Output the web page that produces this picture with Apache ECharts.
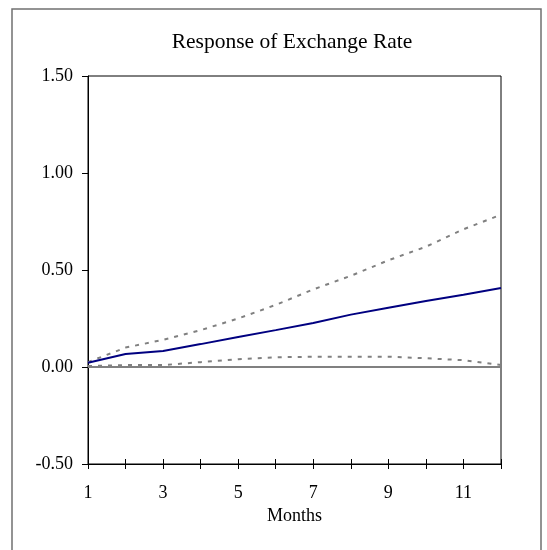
<!DOCTYPE html>
<html>
<head>
<meta charset="utf-8">
<script src="https://cdn.jsdelivr.net/npm/echarts@6/dist/echarts.min.js"></script>
<style>
  html, body { margin: 0; padding: 0; background: #fff; }
  #chart { width: 547px; height: 550px; }
</style>
</head>
<body>
<div id="chart"></div>
<script>
// Impulse response of the exchange rate with its confidence band
const months = [1, 2, 3, 4, 5, 6, 7, 8, 9, 10, 11, 12];
const response = [0.022, 0.067, 0.082, 0.118, 0.155, 0.19, 0.227, 0.27, 0.305, 0.34, 0.372, 0.407];
const upperBand = [0.025, 0.10, 0.14, 0.19, 0.25, 0.32, 0.40, 0.47, 0.55, 0.62, 0.71, 0.785];
const lowerBand = [0.005, 0.01, 0.01, 0.025, 0.04, 0.05, 0.053, 0.053, 0.053, 0.045, 0.035, 0.01];
const yTicks = [-0.5, 0, 0.5, 1.0, 1.5];

const FONT = '"Liberation Serif", "Times New Roman", serif';
const pairs = vals => months.map((m, i) => [m, vals[i]]);

const chart = echarts.init(document.getElementById('chart'), null, { renderer: 'canvas' });

const xBase = {
  type: 'value',
  min: 1,
  max: 12,
  interval: 1,
  position: 'bottom',
  splitLine: { show: false },
  axisLine: { show: true, onZero: false, lineStyle: { color: '#000', width: 1 } }
};

chart.setOption({
  backgroundColor: '#fff',
  animation: false,
  title: {
    text: 'Response of Exchange Rate',
    left: 287,
    top: 26,
    textAlign: 'center',
    textStyle: { fontFamily: FONT, fontSize: 21.5, fontWeight: 'normal', color: '#000' }
  },
  graphic: [{
    type: 'rect',
    shape: { x: 12, y: 9, width: 529, height: 560 },
    style: { fill: 'none', stroke: '#707070', lineWidth: 1.5 },
    silent: true
  }],
  grid: {
    left: 88, right: 46, top: 76, bottom: 86,
    show: true, borderColor: '#000', borderWidth: 1, backgroundColor: 'transparent'
  },
  xAxis: [
    Object.assign({}, xBase, {
      name: 'Months',
      nameLocation: 'middle',
      nameGap: 40,
      nameTextStyle: { fontFamily: FONT, fontSize: 18, color: '#000' },
      axisTick: { show: true, inside: false, length: 5, lineStyle: { color: '#000' } },
      axisLabel: {
        fontFamily: FONT, fontSize: 18, color: '#000', margin: 20,
        formatter: v => (v % 2 === 1 ? String(v) : '')
      }
    }),
    Object.assign({}, xBase, {
      axisTick: { show: true, inside: true, length: 5, lineStyle: { color: '#000' } },
      axisLabel: { show: false }
    })
  ],
  yAxis: {
    type: 'value',
    min: yTicks[0],
    max: yTicks[yTicks.length - 1],
    interval: 0.5,
    splitLine: { show: false },
    axisLine: { show: true, lineStyle: { color: '#000', width: 1 } },
    axisTick: { show: true, length: 6, lineStyle: { color: '#000' } },
    axisLabel: {
      fontFamily: FONT, fontSize: 18, color: '#000', margin: 15,
      verticalAlign: 'middle', lineHeight: 18, padding: [3, 0, 0, 0],
      formatter: v => v.toFixed(2)
    }
  },
  series: [
    {
      name: 'Upper',
      type: 'line',
      data: pairs(upperBand),
      symbol: 'none',
      lineStyle: { color: '#808080', width: 2, type: [4, 6] },
      z: 3
    },
    {
      name: 'Lower',
      type: 'line',
      data: pairs(lowerBand),
      symbol: 'none',
      lineStyle: { color: '#808080', width: 2, type: [4, 6] },
      z: 3,
      markLine: {
        silent: true,
        symbol: 'none',
        label: { show: false },
        lineStyle: { color: '#808080', width: 2, type: 'solid' },
        data: [{ yAxis: 0 }]
      }
    },
    {
      name: 'Response',
      type: 'line',
      data: pairs(response),
      symbol: 'none',
      lineStyle: { color: '#000080', width: 2 },
      z: 4
    }
  ]
});
</script>
</body>
</html>
